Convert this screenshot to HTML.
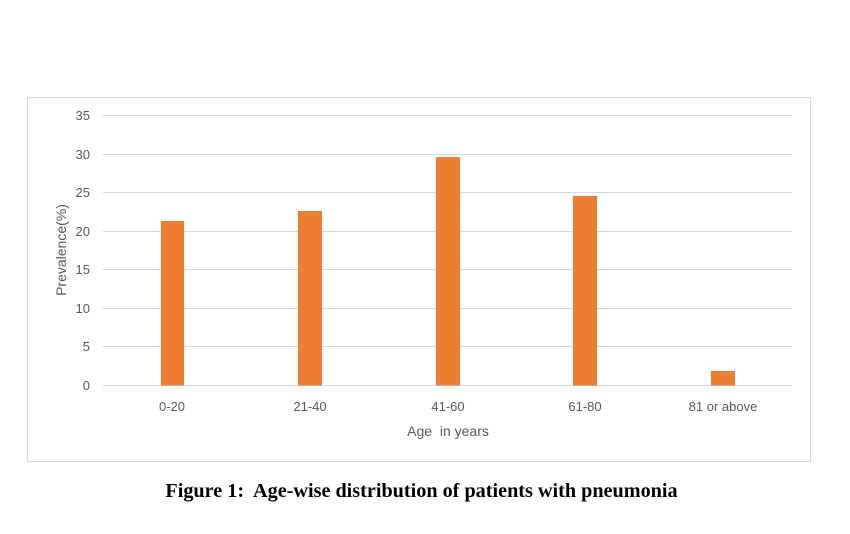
<!DOCTYPE html>
<html><head><meta charset="utf-8"><style>
body{margin:0;background:#fff;}
</style></head><body>
<svg width="850" height="529" xmlns="http://www.w3.org/2000/svg" font-family="Liberation Sans, sans-serif">
<rect x="27.5" y="97.5" width="783" height="364" fill="#fff" stroke="#d9d9d9"/>
<g stroke="#d9d9d9" stroke-width="1">
<line x1="103" x2="792" y1="115.5" y2="115.5"/>
<line x1="103" x2="792" y1="154.5" y2="154.5"/>
<line x1="103" x2="792" y1="192.5" y2="192.5"/>
<line x1="103" x2="792" y1="231.5" y2="231.5"/>
<line x1="103" x2="792" y1="269.5" y2="269.5"/>
<line x1="103" x2="792" y1="308.5" y2="308.5"/>
<line x1="103" x2="792" y1="346.5" y2="346.5"/>
<line x1="103" x2="792" y1="385.5" y2="385.5"/>
</g>
<g fill="#595959" font-size="13" text-anchor="end">
<text x="90" y="120">35</text><text x="90" y="159">30</text><text x="90" y="197">25</text>
<text x="90" y="236">20</text><text x="90" y="274">15</text><text x="90" y="313">10</text>
<text x="90" y="351">5</text><text x="90" y="390">0</text>
</g>
<g fill="#ed7d31">
<rect x="161" y="221" width="23" height="164.5"/>
<rect x="298" y="211" width="24" height="174.5"/>
<rect x="436" y="157" width="24" height="228.5"/>
<rect x="573" y="196" width="24" height="189.5"/>
<rect x="711" y="371" width="24" height="14.5"/>
</g>
<g fill="#595959" font-size="13" text-anchor="middle">
<text x="172" y="411">0-20</text><text x="310" y="411">21-40</text><text x="448" y="411">41-60</text>
<text x="585" y="411">61-80</text><text x="723" y="411">81 or above</text>
<text x="448" y="436" font-size="14">Age&#160; in years</text>
<text transform="translate(66,250) rotate(-90)" font-size="14">Prevalence(%)</text>
</g>
<text x="421.5" y="497" text-anchor="middle" font-family="Liberation Serif, serif" font-weight="bold" font-size="20.2" fill="#000">Figure 1:&#160; Age-wise distribution of patients with pneumonia</text>
</svg>
</body></html>
